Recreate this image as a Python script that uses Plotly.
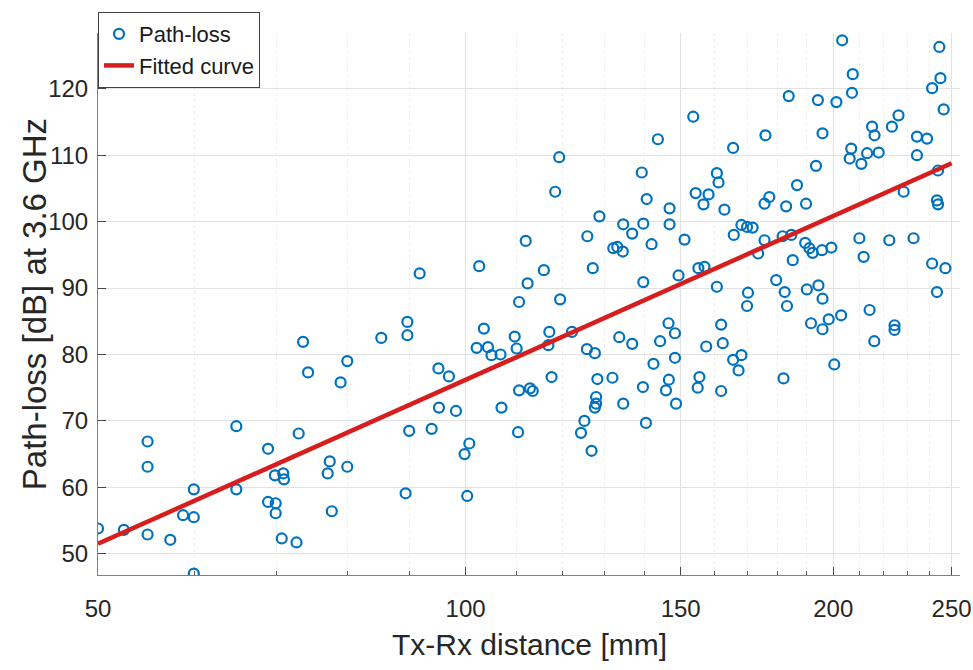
import math
import plotly.graph_objects as go

# ---- data ----
distance_mm = [
    50.0, 52.5, 54.9, 54.9, 54.9, 57.3, 58.7, 59.9, 59.9, 59.9,
    64.9, 64.9, 68.9, 68.9, 69.8, 69.9, 69.9, 70.9, 71.0, 70.7,
    72.7, 73.0, 73.6, 74.3, 77.4, 77.1, 77.7, 80.0, 79.0, 80.0,
    85.3, 89.6, 89.6, 89.9, 89.3, 93.8, 95.0, 96.9, 95.1, 98.2,
    100.7, 99.8, 100.3, 103.5, 102.1, 104.3, 105.0, 106.8, 107.0, 109.7,
    110.1, 110.6, 112.4, 110.6, 112.9, 113.5, 110.4, 117.1, 116.9, 119.5,
    117.6, 122.2, 125.7, 127.6, 128.2, 131.9, 127.9, 127.9, 127.6, 125.1,
    124.3, 126.8, 133.6, 136.9, 134.6, 139.8, 139.7, 140.5, 142.5, 144.3,
    146.6, 145.9, 146.7, 148.7, 148.4, 148.4, 91.7,
    102.6, 112.0, 115.9, 119.3, 118.4, 125.8, 128.7, 127.1, 132.1, 133.1,
    134.5, 134.6, 136.9, 139.8, 139.4, 140.7, 142.0, 143.7, 146.9, 146.9,
    153.6, 151.1, 149.4, 154.3, 156.6, 158.1, 160.6, 161.1, 162.9, 155.1,
    156.9, 165.6, 165.8, 168.2, 170.0, 171.8, 173.6, 175.7, 176.0, 175.7,
    177.3, 179.6, 181.8, 183.0, 183.9, 184.8, 185.3, 186.8, 190.0, 189.7,
    191.2, 192.4, 193.6, 194.3, 196.0, 195.8, 199.3, 201.2, 203.4, 207.2,
    207.5, 206.9, 206.3, 210.9, 213.2, 215.2, 216.2, 217.9, 223.4, 226.2,
    210.1, 211.8, 222.3, 232.7, 228.4, 234.2, 234.2, 238.7, 241.0, 244.8,
    244.3, 246.3, 243.7, 243.2, 243.7, 241.0, 247.1,
    160.6, 170.3, 170.0, 182.5, 183.3, 190.3, 194.5, 196.0,
    161.9, 157.4, 162.4, 165.6, 168.2, 167.3, 155.4, 154.9, 161.9, 182.1,
    191.8, 196.0, 198.3, 203.0, 200.4, 214.2, 216.1, 224.5, 224.5, 243.2,
]
path_loss_db = [
    53.8, 53.6, 66.9, 63.1, 52.9, 52.1, 55.8, 59.7, 55.5, 47.0,
    69.2, 59.7, 65.8, 57.8, 61.8, 57.6, 56.1, 62.1, 61.2, 52.3,
    51.7, 68.1, 81.9, 77.3, 63.9, 62.1, 56.4, 79.0, 75.8, 63.1,
    82.5, 84.9, 82.9, 68.5, 59.1, 68.8, 77.9, 76.7, 72.0, 71.5,
    66.6, 65.0, 58.7, 83.9, 81.0, 81.1, 79.9, 80.0, 72.0, 82.7,
    80.9, 87.9, 90.7, 74.6, 74.9, 74.5, 68.3, 83.4, 81.4, 88.3,
    76.6, 83.4, 80.8, 80.2, 76.3, 76.5, 73.6, 72.6, 72.0, 70.0,
    68.2, 65.5, 82.6, 81.6, 72.6, 90.9, 75.1, 69.7, 78.6, 82.0,
    84.7, 74.6, 76.2, 72.6, 79.5, 83.2, 92.2,
    93.3, 97.1, 92.7, 109.7, 104.5, 97.8, 100.8, 93.0, 96.0, 96.2,
    95.5, 99.6, 98.2, 99.7, 107.4, 103.4, 96.6, 112.4, 102.0, 99.6,
    115.8, 97.3, 91.9, 104.3, 102.6, 104.1, 107.3, 105.9, 101.8, 93.0,
    93.2, 111.1, 98.0, 99.5, 99.2, 99.1, 95.2, 97.2, 113.0, 102.7,
    103.7, 91.2, 97.8, 102.3, 118.9, 98.0, 94.2, 105.5, 102.7, 96.8,
    96.0, 95.3, 108.4, 118.3, 113.3, 95.7, 96.1, 118.0, 127.3, 119.4,
    122.2, 111.0, 109.5, 108.7, 110.3, 114.3, 113.0, 110.4, 114.3, 116.0,
    97.5, 94.7, 97.2, 97.5, 104.5, 110.0, 112.8, 112.5, 120.1, 121.6,
    126.3, 116.9, 107.7, 103.2, 102.6, 93.7, 93.0,
    90.2, 89.3, 87.3, 89.4, 87.3, 89.8, 90.4, 88.4,
    84.5, 81.2, 81.7, 79.2, 79.9, 77.6, 76.6, 75.0, 74.5, 76.4,
    84.7, 83.8, 85.3, 85.9, 78.5, 86.7, 82.0, 84.4, 83.7, 89.4,
]
fit_distance_mm = [50, 250]
fit_path_loss_db = [51.5, 108.8]

x_tick_vals = [50, 100, 150, 200, 250]
x_minor_vals = [60, 70, 80, 90, 110, 120, 130, 140, 160, 170, 180, 190,
                210, 220, 230, 240]
y_tick_vals = [50, 60, 70, 80, 90, 100, 110, 120]
x_range = [50, 254]
y_range = [46.8, 128.4]

FONT = "Liberation Sans, Arial, sans-serif"
INK = "#262626"

fig = go.Figure()
fig.add_trace(go.Scatter(
    x=distance_mm, y=path_loss_db, mode="markers", name="Path-loss",
    marker=dict(symbol="circle-open", size=10, color="#0072BD",
                line=dict(width=2.2, color="#0072BD")),
))
fig.add_trace(go.Scatter(
    x=fit_distance_mm, y=fit_path_loss_db, mode="lines", name="Fitted curve",
    line=dict(color="#D71E1E", width=4.5),
))

fig.update_layout(
    width=973, height=670,
    margin=dict(l=98, r=13, t=33, b=95),
    paper_bgcolor="white", plot_bgcolor="white",
    font=dict(family=FONT, color=INK),
    showlegend=True,
    legend=dict(
        x=0, y=1.0387, xanchor="left", yanchor="top",
        bgcolor="white", bordercolor="#404040", borderwidth=1,
        font=dict(family=FONT, size=22, color="#1a1a1a"),
        itemwidth=30, tracegroupgap=0,
    ),
    annotations=[
        dict(text="Tx-Rx distance [mm]", xref="paper", yref="paper",
             x=0.5, y=-0.128, xanchor="center", yanchor="middle",
             showarrow=False, font=dict(family=FONT, size=30, color=INK)),
        dict(text="Path-loss [dB] at 3.6 GHz", xref="paper", yref="paper",
             x=-0.074, y=0.5, xanchor="center", yanchor="middle", textangle=-90,
             showarrow=False, font=dict(family=FONT, size=33, color=INK)),
    ],
)

fig.update_xaxes(
    type="log", range=[math.log10(x_range[0]), math.log10(x_range[1])],
    tickmode="array", tickvals=x_tick_vals, ticktext=[str(v) for v in x_tick_vals],
    ticks="inside", ticklen=8, tickcolor="#444444", tickwidth=1,
    showline=True, linecolor="#808080", linewidth=1, mirror=False,
    showgrid=True, gridcolor="#e2e2e2", gridwidth=1, zeroline=False,
    tickfont=dict(family=FONT, size=24, color=INK),
    ticklabelstandoff=12, ticklabeloverflow="allow", automargin=False,
    minor=dict(tickmode="array", tickvals=x_minor_vals, ticks="inside", ticklen=4,
               tickcolor="#555555", showgrid=True, gridcolor="#ececec",
               griddash="dot", gridwidth=1),
)
fig.update_yaxes(
    range=y_range, tickmode="array", tickvals=y_tick_vals,
    ticktext=[str(v) for v in y_tick_vals],
    ticks="inside", ticklen=8, tickcolor="#444444", tickwidth=1,
    showline=True, linecolor="#808080", linewidth=1, mirror=False,
    showgrid=True, gridcolor="#e2e2e2", gridwidth=1, zeroline=False,
    tickfont=dict(family=FONT, size=24, color=INK),
    ticklabelstandoff=4, automargin=False,
)

fig.write_html("out.html")
